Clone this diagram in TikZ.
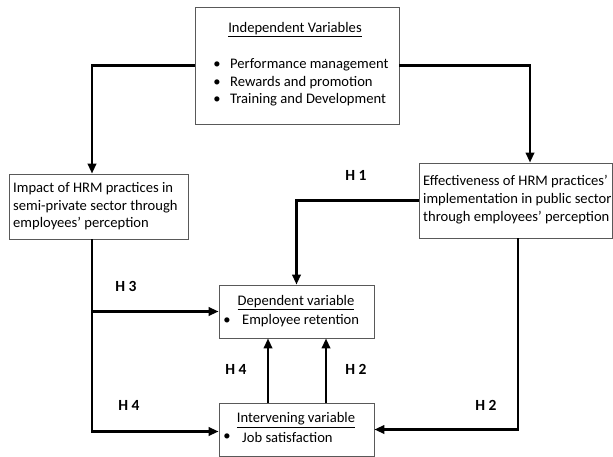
\documentclass[tikz,border=0pt]{standalone}
\usepackage{fontspec}
\setmainfont{Carlito}
\usetikzlibrary{arrows.meta}
\begin{document}
\begin{tikzpicture}[x=1pt,y=-1pt,
  every node/.style={font=\fontsize{14.6}{17}\selectfont},
  box/.style={draw=black!65, line width=0.9pt, fill=white, inner sep=0pt},
  txt/.style={inner sep=0pt, anchor=west},
  ctxt/.style={inner sep=0pt},
  conn/.style={line width=2.2pt, -{Triangle[length=10pt,width=8.5pt]}},
  hlab/.style={inner sep=0pt, font=\fontsize{15.5}{17}\selectfont\bfseries}]
\useasboundingbox (0,0) rectangle (613,457);
% boxes
\node[box, minimum width=204pt, minimum height=117pt] (top) at (297,65.5) {};
\node[box, minimum width=179pt, minimum height=65pt] (left) at (98.5,206.5) {};
\node[box, minimum width=193pt, minimum height=75pt] (right) at (515.5,200.5) {};
\node[box, minimum width=155pt, minimum height=53pt] (dep) at (296.5,311.5) {};
\node[box, minimum width=155pt, minimum height=53pt] (inter) at (296.5,429.5) {};
% texts
\node[ctxt] (t0) at (295,30) {\underline{Independent Variables}};
\node[ctxt] (b1) at (217,65) {\textbullet};
\node[ctxt] (b2) at (217,83) {\textbullet};
\node[ctxt] (b3) at (217,100) {\textbullet};
\node[txt] (t1) at (230,65) {Performance management};
\node[txt] (t2) at (230,83) {Rewards and promotion};
\node[txt] (t3) at (230,100) {Training and Development};
\node[txt] (l1) at (13,189) {Impact of HRM practices in};
\node[txt] (l2) at (13,207) {semi-private sector through};
\node[txt] (l3) at (13,224) {employees' perception};
\node[txt] (r1) at (423,182) {Effectiveness of HRM practices'};
\node[txt] (r2) at (423,200) {implementation in public sector};
\node[txt] (r3) at (423,218) {through employees' perception};
\node[ctxt] (d0) at (296,303) {\underline{Dependent variable}};
\node[ctxt] (d1) at (227,321) {\textbullet};
\node[txt] (d2) at (242,321) {Employee retention};
\node[ctxt] (i0) at (296,420) {\underline{Intervening variable}};
\node[ctxt] (i1) at (227,437) {\textbullet};
\node[txt] (i2) at (242,437) {Job satisfaction};
% labels
\node[hlab] (h1) at (356,175) {H 1};
\node[hlab] (h3) at (126,286) {H 3};
\node[hlab] (h4a) at (236,369) {H 4};
\node[hlab] (h2a) at (356,369) {H 2};
\node[hlab] (h4b) at (129,405) {H 4};
\node[hlab] (h2b) at (486,405) {H 2};
% connectors
\draw[conn] (top.west) -| ([xshift=-6.5pt]left.north);
\draw[conn] (top.east) -| ([xshift=14.5pt]right.north);
\draw[conn] (right.west) -| (dep.north);
\draw[conn] ([xshift=-6.5pt]left.south) |- ([yshift=-2pt]inter.west);
\coordinate (j3) at ([xshift=-6.5pt]left.south |- dep.west);
\draw[conn] (j3) -- (dep.west);
\draw[conn] ([xshift=2.5pt]right.south) |- (inter.east);
\draw[conn] ([xshift=-28.5pt]inter.north) -- ([xshift=-28.5pt]dep.south);
\draw[conn] ([xshift=29.5pt]inter.north) -- ([xshift=29.5pt]dep.south);
\end{tikzpicture}
\end{document}
